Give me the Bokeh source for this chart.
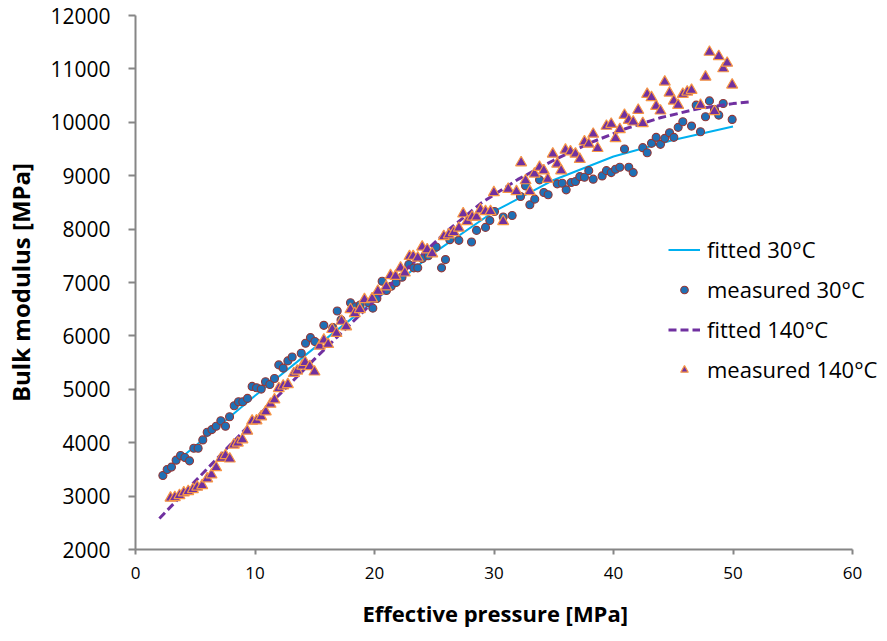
from bokeh.plotting import figure
from bokeh.models import Legend, LegendItem, FixedTicker, Range1d, Title
from bokeh.embed import file_html
from bokeh.resources import INLINE

# ---- data ----
fit30_p = [2.0, 5, 10, 15, 20, 25, 30, 35, 40, 45, 50]
fit30_k = [3380, 3940, 4880, 5780, 6660, 7560, 8330, 8920, 9360, 9670, 9920]

fit140_p = [2.0, 5, 10, 15, 20, 23, 26, 29, 32, 35, 38, 41, 44, 47, 50, 51.5]
fit140_k = [2580, 3280, 4440, 5570, 6660, 7320, 7950, 8500, 8930, 9290, 9610, 9880, 10090, 10250, 10350, 10385]

meas30_p = [2.29, 2.65, 3.01, 3.40, 3.77, 4.13, 4.52, 4.88, 5.24, 5.63, 6.00, 6.39, 6.75, 7.14, 7.53,
            7.87, 8.26, 8.62, 8.98, 9.37, 9.76, 10.13, 10.52, 10.88, 11.24, 11.63, 11.99, 12.36, 12.75,
            13.11, 13.87, 14.23, 14.64, 15.01, 15.76, 16.51, 16.88, 17.2, 17.99, 18.41, 18.8, 19.52,
            19.86, 20.2, 20.64, 21.0, 21.40, 21.8, 22.3, 22.87, 23.29, 23.62, 24.0, 24.5, 25.16, 25.61,
            25.94, 26.30, 27.06, 28.12, 28.54, 29.29, 29.65, 30.04, 30.77, 31.52, 32.22, 32.64, 33.00,
            33.41, 33.81, 34.17, 34.53, 35.29, 35.71, 36.04, 36.46, 36.82, 37.18, 37.57, 37.93, 38.30,
            39.05, 39.41, 39.81, 40.17, 40.53, 40.92, 41.28, 41.65, 42.45, 42.82, 43.18, 43.57, 43.93,
            44.29, 44.69, 45.05, 45.41, 45.80, 46.53, 46.92, 47.28, 47.70, 48.03, 48.45, 48.81, 49.18,
            49.93]
meas30_k = [3386, 3498, 3543, 3673, 3760, 3722, 3660, 3897, 3897, 4052, 4196, 4245, 4308, 4412, 4308,
            4487, 4692, 4767, 4767, 4830, 5054, 5028, 5004, 5140, 5091, 5203, 5457, 5396, 5532,
            5606, 5675, 5862, 5968, 5894, 6198, 6155, 6465, 6300, 6621, 6546, 6580, 6621,
            6520, 6700, 7024, 6850, 6931, 7000, 7100, 7336, 7274, 7274, 7450, 7500, 7666, 7274,
            7429, 7802, 7789, 7759, 7976, 8032, 8162, 8330, 8226, 8256, 8610, 8810, 8455,
            8561, 8922, 8685, 8642, 8847, 8860, 8735, 8872, 8890, 8983, 8972, 9095, 8935,
            8996, 9095, 9058, 9121, 9158, 9500, 9158, 9058, 9525, 9431, 9606, 9718, 9587,
            9699, 9804, 9718, 9905, 10009, 9929, 10321, 9823, 10103, 10401, 10240, 10134, 10352,
            10054]

meas140_p = [2.93, 3.29, 3.68, 4.04, 4.41, 4.80, 5.16, 5.58, 6.00, 6.36, 6.75, 7.17, 7.53, 7.89, 8.23,
             8.56, 8.95, 9.35, 9.76, 10.13, 10.52, 10.90, 11.30, 11.63, 11.99, 12.36, 12.75, 13.25,
             13.53, 13.95, 14.2, 14.59, 14.98, 15.42, 15.76, 16.12, 16.46, 16.82, 17.24, 17.63, 17.99,
             18.35, 18.77, 19.16, 19.80, 20.28, 20.98, 21.34, 21.76, 22.18, 22.54, 22.93, 23.24, 23.62,
             23.99, 24.41, 24.83, 25.80, 26.22, 26.64, 27.06, 27.42, 27.76, 28.17, 28.54, 28.87, 29.29,
             29.71, 29.99, 30.77, 31.19, 31.88, 32.27, 32.64, 33.00, 33.39, 33.81, 34.17, 34.50, 34.92,
             35.29, 35.62, 35.98, 36.40, 36.82, 37.18, 37.57, 37.93, 38.30, 38.67, 39.41, 39.81, 40.17,
             40.53, 40.92, 41.28, 41.65, 42.07, 42.45, 42.82, 43.18, 43.57, 43.93, 44.29, 44.69, 45.05,
             45.41, 45.80, 46.17, 46.53, 47.28, 47.70, 48.03, 48.45, 48.81, 49.18, 49.51, 49.93]
meas140_k = [2965, 2976, 3013, 3063, 3088, 3125, 3170, 3200, 3325, 3399, 3535, 3711, 3760, 3698, 3959,
             3996, 4058, 4220, 4407, 4412, 4487, 4580, 4724, 4804, 5017, 5065, 5091, 5300,
             5345, 5438, 5505, 5427, 5327, 5811, 5923, 5843, 6123, 6049, 6278, 6173, 6496,
             6422, 6496, 6683, 6696, 6838, 6920, 7131, 7118, 7274, 7181, 7491, 7491, 7461,
             7666, 7616, 7541, 7864, 7895, 7939, 8020, 8287, 8144, 8226, 8226, 8362, 8330,
             8330, 8685, 8144, 8748, 8704, 9245, 8909, 8704, 9034, 9158, 9095, 8935, 9407,
             9220, 9095, 9481, 9450, 9407, 9308, 9636, 9593, 9780, 9513, 9929, 9966, 9699,
             9867, 10134, 10041, 10009, 10228, 9979, 10526, 10464, 10302, 10215, 10756, 10550, 10401,
             10321, 10526, 10569, 10601, 10321, 10849, 11315, 10205, 11235, 11006, 11110, 10700]

x_ticks = [0, 10, 20, 30, 40, 50, 60]
y_ticks = [2000, 3000, 4000, 5000, 6000, 7000, 8000, 9000, 10000, 11000, 12000]

labels = ["fitted 30°C", "measured 30°C", "fitted 140°C", "measured 140°C"]
x_title = "Effective pressure [MPa]"
y_title = "Bulk modulus [MPa]"

# frame spans 135..887 px; axis 0..60 covers 135..852 px, the rest holds the legend
X_MAX_AXIS = 60
FRAME_X_END = X_MAX_AXIS * (887 - 135) / (852 - 135)

p = figure(width=887, height=641, output_backend="svg", toolbar_location=None,
           x_range=Range1d(0, FRAME_X_END), y_range=Range1d(2000, 12000),
           min_border_left=135, min_border_right=0, min_border_top=15, min_border_bottom=90)
p.outline_line_color = None
p.xgrid.grid_line_color = None
p.ygrid.grid_line_color = None

r1 = p.line(fit30_p, fit30_k, line_color="#00B0F0", line_width=2)
r2 = p.scatter(meas30_p, meas30_k, marker="circle", size=8, fill_color="#1F70B5",
               line_color="#953735", line_width=1.1)
r3 = p.line(fit140_p, fit140_k, line_color="#7030A0", line_width=3, line_dash="8 4")
r4 = p.scatter(meas140_p, meas140_k, marker="triangle", size=11, fill_color="#7030A0",
               line_color="#F79646", line_width=1.2)

axis_col = "#868686"
for ax in (p.xaxis[0], p.yaxis[0]):
    ax.axis_line_color = axis_col
    ax.axis_line_width = 2
    ax.major_tick_line_color = axis_col
    ax.major_tick_line_width = 2
    ax.minor_tick_line_color = None
    ax.major_tick_in = 0
    ax.major_label_text_color = "#000000"
    ax.major_label_text_font = "Open Sans"
    ax.axis_label_text_font = "Open Sans"
    ax.axis_label_text_font_style = "bold"
    ax.axis_label_text_color = "#000000"

p.xaxis[0].bounds = (0, X_MAX_AXIS)
p.xaxis[0].ticker = FixedTicker(ticks=x_ticks)
p.yaxis[0].ticker = FixedTicker(ticks=y_ticks)
p.xaxis[0].major_tick_out = 5
p.yaxis[0].major_tick_out = 7
p.xaxis[0].major_label_text_font_size = "17px"
p.yaxis[0].major_label_text_font_size = "21px"
p.xaxis[0].major_label_standoff = 12
p.yaxis[0].major_label_standoff = 18
p.yaxis[0].axis_label = y_title
p.yaxis[0].axis_label_text_font_size = "24px"
p.yaxis[0].axis_label_standoff = 10

# x-axis title centred on the 0..60 axis (not on the wider frame)
xt = Title(text=x_title, align="left", offset=227, standoff=28,
           text_font="Open Sans", text_font_style="bold", text_font_size="22px",
           text_color="#000000")
p.add_layout(xt, "below")

legend = Legend(items=[LegendItem(label=labels[0], renderers=[r1]),
                       LegendItem(label=labels[1], renderers=[r2]),
                       LegendItem(label=labels[2], renderers=[r3]),
                       LegendItem(label=labels[3], renderers=[r4])],
                location=(533, 164))
legend.background_fill_alpha = 0
legend.border_line_color = None
legend.padding = 0
legend.margin = 0
legend.spacing = 8
legend.glyph_width = 32
legend.glyph_height = 19
legend.label_height = 32
legend.label_standoff = 7
legend.label_text_font = "Open Sans"
legend.label_text_font_size = "22px"
legend.label_text_color = "#000000"
p.add_layout(legend)

open("out.html", "w").write(file_html(p, INLINE))
